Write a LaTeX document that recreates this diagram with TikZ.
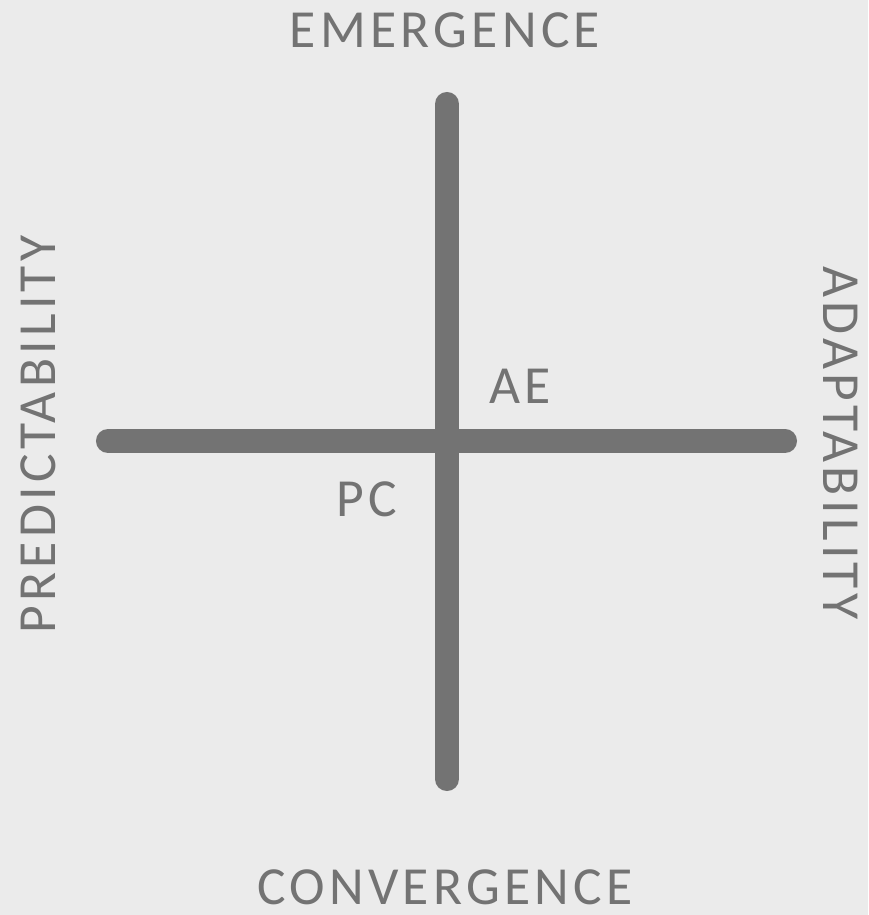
\documentclass[tikz,border=0pt]{standalone}
\usepackage{fontspec}
\setmainfont{Carlito}[LetterSpace=8]
\usepackage{tikz}
\usetikzlibrary{positioning}
\definecolor{AxisGray}{RGB}{115,115,115}
\definecolor{PaperGray}{RGB}{235,235,235}
\tikzset{
  axisline/.style={line width=13.7pt, line cap=round, AxisGray},
  axislabel/.style={text=AxisGray, font=\fontsize{30.5}{32}\selectfont, inner sep=0pt},
}

\begin{document}
\begin{tikzpicture}[x=0.02cm, y=-0.02cm]
        \fill[PaperGray] (0,0) rectangle (868,915);
        \useasboundingbox (0,0) rectangle (868,915);
        % axis ends
        \coordinate (top) at (447,104);
        \coordinate (bottom) at (447,779);
        \coordinate (left) at (108,441);
        \coordinate (right) at (785,441);
        \draw[axisline] (top) -- (bottom);
        \draw[axisline] (left) -- (right);
        % labels
        \node[axislabel] (emergence) at (445,30) {EMERGENCE};
        \node[axislabel] (convergence) at (445,887) {CONVERGENCE};
        \node[axislabel, rotate=90] (predict) at (38.5,434.5) {PREDICTABILITY};
        \node[axislabel, rotate=-90] (adapt) at (841,443) {ADAPTABILITY};
        \node[axislabel] (ae) at (520,386) {AE};
        \node[axislabel] (pc) at (367,499) {PC};
\end{tikzpicture}
\end{document}
